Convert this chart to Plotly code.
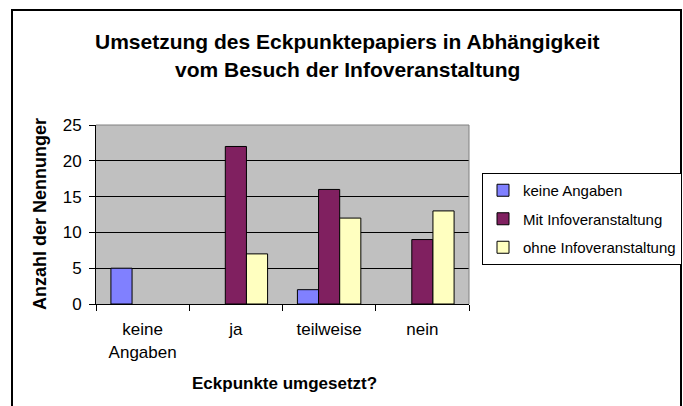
import plotly.graph_objects as go

categories = ["keine<br>Angaben", "ja", "teilweise", "nein"]
keine_angaben = [5, 0, 2, 0]
mit_info = [0, 22, 16, 9]
ohne_info = [0, 7, 12, 13]
series_names = ["keine Angaben", "Mit Infoveranstaltung", "ohne Infoveranstaltung"]
series_colors = ["#8080FF", "#802060", "#FFFFC0"]
y_ticks = [0, 5, 10, 15, 20, 25]

title_line1 = "Umsetzung des Eckpunktepapiers in Abhängigkeit"
title_line2 = "vom Besuch der Infoveranstaltung"
x_title = "Eckpunkte umgesetzt?"
y_title = "Anzahl der Nennunger"

W, H = 683, 406
L, R, T, B = 96, 683 - 469, 125, 406 - 304
PW, PH = W - L - R, H - T - B


def px(xp):
    return (xp - L) / PW


def py(yp):
    return (H - B - yp) / PH


FONT = "Liberation Sans, Arial, sans-serif"

fig = go.Figure()
for i, (name, vals, col) in enumerate(zip(series_names, [keine_angaben, mit_info, ohne_info], series_colors)):
    fig.add_trace(go.Bar(
        x=categories, y=[v if v else None for v in vals], name=name,
        marker=dict(color=col, line=dict(color="black", width=1)),
        legendgroup=f"g{i}",
    ))

fig.update_layout(
    width=W, height=H,
    margin=dict(l=L, r=R, t=T, b=B, pad=0, autoexpand=False),
    paper_bgcolor="white",
    plot_bgcolor="#C0C0C0",
    barmode="group",
    bargap=0.32,
    bargroupgap=0,
    font=dict(family=FONT, color="black", size=15),
    showlegend=True,
    legend=dict(
        x=px(482), y=py(173), xanchor="left", yanchor="top",
        bordercolor="black", borderwidth=1, bgcolor="white",
        font=dict(size=15, family=FONT, color="black"),
        traceorder="grouped", tracegroupgap=6,
        itemwidth=30,
    ),
    xaxis=dict(
        type="category", tickson="boundaries", ticks="outside", ticklen=6,
        tickcolor="black", tickwidth=1, showline=True, linecolor="black",
        linewidth=1, showgrid=False, tickfont=dict(size=17, family=FONT),
        ticklabelstandoff=10, fixedrange=True, automargin=False,
    ),
    yaxis=dict(
        range=[0, 25], tickvals=y_ticks, ticks="outside", ticklen=6,
        tickcolor="black", tickwidth=1, showline=True, linecolor="black",
        linewidth=1, showgrid=True, gridcolor="black", gridwidth=1,
        zeroline=False, tickfont=dict(size=17, family=FONT),
        ticklabelstandoff=4, fixedrange=True, automargin=False,
    ),
)

# plot-area gray border (top and right)
fig.add_shape(type="line", xref="paper", yref="paper", x0=0, x1=1, y0=1, y1=1,
              line=dict(color="#808080", width=1))
fig.add_shape(type="line", xref="paper", yref="paper", x0=1, x1=1, y0=0, y1=1,
              line=dict(color="#808080", width=1))
# outer chart border
fig.add_shape(type="rect", xref="paper", yref="paper",
              x0=px(12), x1=px(681), y0=py(10), y1=py(430),
              line=dict(color="black", width=2), fillcolor="rgba(0,0,0,0)")

fig.add_annotation(text=f"<b>{title_line1}</b>", xref="paper", yref="paper",
                   x=px(347), y=py(41), xanchor="center", yanchor="middle",
                   showarrow=False, font=dict(size=21, family=FONT))
fig.add_annotation(text=f"<b>{title_line2}</b>", xref="paper", yref="paper",
                   x=px(347), y=py(70), xanchor="center", yanchor="middle",
                   showarrow=False, font=dict(size=21, family=FONT))
fig.add_annotation(text=f"<b>{x_title}</b>", xref="paper", yref="paper",
                   x=px(284), y=py(383), xanchor="center", yanchor="middle",
                   showarrow=False, font=dict(size=17, family=FONT))
fig.add_annotation(text=f"<b>{y_title}</b>", xref="paper", yref="paper",
                   x=px(40), y=py(214), xanchor="center", yanchor="middle",
                   textangle=-90, showarrow=False, font=dict(size=18, family=FONT))

fig.write_html(
    "out.html",
    config={"displayModeBar": False},
    post_script="document.body.style.margin='0';document.body.style.overflow='hidden';",
)
